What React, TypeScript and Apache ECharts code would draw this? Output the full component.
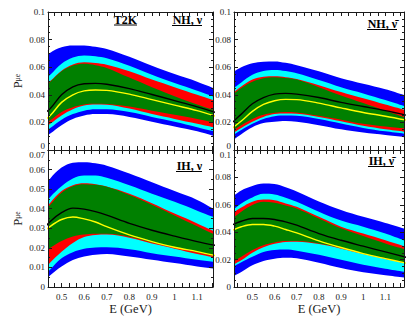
import React, { useEffect, useRef } from "react";
import * as echarts from "echarts";

const SERIF = "Liberation Serif";

// energy sample points (GeV)
const energy = [0.41, 0.45, 0.5, 0.55, 0.6, 0.65, 0.7, 0.8, 0.9, 1.0, 1.1, 1.2];
const xLabelValues = [0.5, 0.6, 0.7, 0.8, 0.9, 1, 1.1];

// NH, nu (top-left)
const nhNuBlueHi = [0.0645, 0.0705, 0.0745, 0.0758, 0.0758, 0.0748, 0.0732, 0.0675, 0.061, 0.055, 0.0495, 0.043];
const nhNuCyanHi = [0.049, 0.0545, 0.0625, 0.067, 0.0685, 0.068, 0.0665, 0.061, 0.0545, 0.0485, 0.043, 0.037];
const nhNuRedHi = [0.045, 0.05, 0.0575, 0.062, 0.0635, 0.063, 0.0618, 0.057, 0.051, 0.0455, 0.04, 0.0345];
const nhNuGreenHi = [0.0445, 0.0495, 0.057, 0.0612, 0.0625, 0.0615, 0.0595, 0.0525, 0.0455, 0.039, 0.033, 0.0275];
const nhNuBlack = [0.025, 0.03, 0.04, 0.0458, 0.048, 0.0483, 0.0476, 0.0445, 0.0402, 0.0358, 0.0313, 0.0262];
const nhNuYellow = [0.02, 0.025, 0.0345, 0.04, 0.0428, 0.0435, 0.0432, 0.0405, 0.0365, 0.0325, 0.0285, 0.0235];
const nhNuGreenLo = [0.017, 0.0215, 0.0275, 0.031, 0.033, 0.0335, 0.0333, 0.0315, 0.0285, 0.0255, 0.0225, 0.019];
const nhNuRedLo = [0.015, 0.019, 0.025, 0.0295, 0.0322, 0.033, 0.0328, 0.03, 0.026, 0.0225, 0.019, 0.0155];
const nhNuCyanLo = [0.012, 0.016, 0.022, 0.026, 0.0285, 0.0295, 0.0295, 0.0275, 0.024, 0.0205, 0.0165, 0.0125];
const nhNuBlueLo = [0.008, 0.012, 0.018, 0.0225, 0.025, 0.026, 0.026, 0.024, 0.0205, 0.017, 0.0135, 0.009];

// NH, anti-nu (top-right)
const nhNubBlueHi = [0.056, 0.06, 0.0628, 0.064, 0.0642, 0.0632, 0.0615, 0.057, 0.052, 0.048, 0.044, 0.039];
const nhNubCyanHi = [0.044, 0.049, 0.0545, 0.0572, 0.058, 0.0572, 0.0556, 0.0507, 0.0455, 0.041, 0.0362, 0.031];
const nhNubRedHi = [0.041, 0.046, 0.051, 0.053, 0.0535, 0.0528, 0.0515, 0.047, 0.042, 0.0375, 0.033, 0.0285];
const nhNubGreenHi = [0.04, 0.045, 0.0495, 0.052, 0.0527, 0.0522, 0.051, 0.0455, 0.0395, 0.034, 0.0285, 0.023];
const nhNubBlack = [0.02, 0.026, 0.0335, 0.038, 0.0405, 0.041, 0.0405, 0.038, 0.0345, 0.0315, 0.0285, 0.025];
const nhNubYellow = [0.016, 0.021, 0.028, 0.033, 0.0357, 0.0367, 0.0365, 0.034, 0.0305, 0.0272, 0.0245, 0.0215];
const nhNubGreenLo = [0.014, 0.018, 0.0225, 0.0255, 0.027, 0.0275, 0.0272, 0.0248, 0.022, 0.019, 0.017, 0.0155];
const nhNubRedLo = [0.012, 0.016, 0.0205, 0.024, 0.026, 0.0265, 0.0263, 0.024, 0.0208, 0.0175, 0.015, 0.013];
const nhNubCyanLo = [0.0105, 0.0145, 0.019, 0.0225, 0.0245, 0.025, 0.0248, 0.0225, 0.0192, 0.016, 0.0135, 0.0115];
const nhNubBlueLo = [0.007, 0.0115, 0.0165, 0.0195, 0.0205, 0.021, 0.0205, 0.018, 0.015, 0.0126, 0.0108, 0.009];

// IH, nu (bottom-left)
const ihNuBlueHi = [0.049, 0.0555, 0.061, 0.0635, 0.0638, 0.0632, 0.062, 0.058, 0.0535, 0.049, 0.0445, 0.038];
const ihNuCyanHi = [0.04, 0.046, 0.0515, 0.0555, 0.057, 0.057, 0.0558, 0.052, 0.0477, 0.0435, 0.039, 0.0345];
const ihNuRedHi = [0.037, 0.043, 0.049, 0.052, 0.053, 0.0525, 0.0514, 0.0477, 0.0428, 0.0375, 0.0325, 0.027];
const ihNuGreenHi = [0.036, 0.042, 0.0482, 0.0515, 0.0525, 0.0522, 0.0512, 0.047, 0.042, 0.0365, 0.031, 0.0255];
const ihNuBlack = [0.028, 0.0335, 0.038, 0.0403, 0.0398, 0.0385, 0.0367, 0.0325, 0.029, 0.026, 0.0232, 0.0208];
const ihNuYellow = [0.027, 0.031, 0.0345, 0.0358, 0.0348, 0.0332, 0.0308, 0.0266, 0.0232, 0.0203, 0.0181, 0.0155];
const ihNuGreenLo = [0.017, 0.02, 0.0235, 0.0258, 0.0268, 0.0272, 0.0272, 0.0257, 0.0228, 0.0203, 0.0177, 0.0153];
const ihNuRedLo = [0.007, 0.0125, 0.018, 0.0225, 0.0255, 0.0266, 0.0268, 0.0252, 0.0222, 0.0196, 0.0169, 0.0146];
const ihNuCyanLo = [0.004, 0.009, 0.0147, 0.0178, 0.0195, 0.0202, 0.0203, 0.0193, 0.0173, 0.0156, 0.0139, 0.0125];
const ihNuBlueLo = [0.001, 0.006, 0.0105, 0.0138, 0.0156, 0.0165, 0.0169, 0.0156, 0.0139, 0.0122, 0.0105, 0.009];

// IH, anti-nu (bottom-right)
const ihNubBlueHi = [0.066, 0.0705, 0.0737, 0.0755, 0.0752, 0.0728, 0.0697, 0.0625, 0.0562, 0.0512, 0.0468, 0.042];
const ihNubCyanHi = [0.056, 0.061, 0.0654, 0.068, 0.0676, 0.0652, 0.0622, 0.055, 0.0485, 0.044, 0.039, 0.033];
const ihNubRedHi = [0.054, 0.058, 0.0622, 0.0638, 0.0634, 0.061, 0.0585, 0.0512, 0.044, 0.039, 0.0341, 0.029];
const ihNubGreenHi = [0.05, 0.055, 0.0598, 0.0622, 0.0615, 0.0595, 0.0573, 0.05, 0.0428, 0.0372, 0.0318, 0.027];
const ihNubBlack = [0.0455, 0.048, 0.05, 0.05, 0.0493, 0.0475, 0.0451, 0.039, 0.0341, 0.0298, 0.0256, 0.0215];
const ihNubYellow = [0.0415, 0.044, 0.0456, 0.0456, 0.0444, 0.042, 0.0395, 0.0337, 0.0288, 0.0244, 0.0207, 0.0172];
const ihNubGreenLo = [0.018, 0.022, 0.027, 0.0305, 0.0325, 0.0335, 0.0335, 0.0318, 0.0285, 0.0245, 0.021, 0.0175];
const ihNubRedLo = [0.016, 0.0195, 0.025, 0.029, 0.0315, 0.0328, 0.033, 0.0313, 0.028, 0.024, 0.0205, 0.017];
const ihNubCyanLo = [0.0145, 0.018, 0.022, 0.0255, 0.027, 0.0273, 0.0265, 0.0235, 0.0198, 0.0162, 0.0134, 0.0108];
const ihNubBlueLo = [0.0075, 0.011, 0.0159, 0.019, 0.0207, 0.0214, 0.021, 0.0177, 0.0138, 0.0107, 0.0085, 0.0066];

const BLUE = "#0000ff";
const CYAN = "#00ffff";
const RED = "#ff0000";
const GREEN = "#008000";
const WHITE = "#ffffff";
const AX = "#1a1a1a";

// Each panel's boundary curves, drawn as areas filled down to the axis, in this order:
// upper edges (outer to inner), then lower edges (inner to outer) filled with the next outer colour.
const panels = [
  {
    grid: { left: 48, top: 12, width: 165, height: 138 },
    xMin: 0.44, xMax: 1.17, yMax: 0.1, yStep: 0.02, ySplit: 4,
    layers: [
      [nhNuBlueHi, BLUE], [nhNuCyanHi, CYAN], [nhNuRedHi, RED], [nhNuGreenHi, GREEN],
      [nhNuGreenLo, RED], [nhNuRedLo, CYAN], [nhNuCyanLo, BLUE], [nhNuBlueLo, WHITE],
    ],
    black: nhNuBlack, yellow: nhNuYellow,
  },
  {
    grid: { left: 234, top: 12, width: 170, height: 138 },
    xMin: 0.417, xMax: 1.184, yMax: 0.1, yStep: 0.02, ySplit: 4,
    layers: [
      [nhNubBlueHi, BLUE], [nhNubCyanHi, CYAN], [nhNubRedHi, RED], [nhNubGreenHi, GREEN],
      [nhNubGreenLo, RED], [nhNubRedLo, CYAN], [nhNubCyanLo, BLUE], [nhNubBlueLo, WHITE],
    ],
    black: nhNubBlack, yellow: nhNubYellow,
  },
  {
    grid: { left: 48, top: 150, width: 165, height: 137 },
    xMin: 0.44, xMax: 1.17, yMax: 0.07, yStep: 0.01, ySplit: 2,
    layers: [
      [ihNuBlueHi, BLUE], [ihNuCyanHi, CYAN], [ihNuRedHi, RED], [ihNuGreenHi, GREEN],
      [ihNuGreenLo, RED], [ihNuRedLo, CYAN], [ihNuCyanLo, BLUE], [ihNuBlueLo, WHITE],
    ],
    black: ihNuBlack, yellow: ihNuYellow,
  },
  {
    grid: { left: 234, top: 150, width: 170, height: 137 },
    xMin: 0.417, xMax: 1.184, yMax: 0.1, yStep: 0.02, ySplit: 4,
    layers: [
      [ihNubBlueHi, BLUE], [ihNubCyanHi, CYAN], [ihNubRedHi, RED], [ihNubGreenHi, GREEN],
      [ihNubGreenLo, RED], [ihNubRedLo, CYAN], [ihNubCyanLo, BLUE], [ihNubBlueLo, WHITE],
    ],
    black: ihNubBlack, yellow: ihNubYellow,
  },
];

function tickValues(min: number, max: number) {
  const out: number[] = [];
  for (let k = 12; k <= 36; k++) {
    const v = k / 30;
    if (v > min + 1e-6 && v < max - 1e-6) out.push(v);
  }
  return out;
}

function fmtY(v: number) {
  if (v === 0) return "0";
  return String(parseFloat(v.toFixed(3)));
}

function buildOption() {
  const xAxis: any[] = [];
  const yAxis: any[] = [];
  const series: any[] = [];
  panels.forEach((p, g) => {
    const bottomRow = g >= 2;
    const leftCol = g % 2 === 0;
    const ticks = tickValues(p.xMin, p.xMax);
    const baseX = {
      type: "value", gridIndex: g, min: p.xMin, max: p.xMax, z: 10,
      axisLine: { show: true, onZero: false, lineStyle: { color: AX, width: 1 } },
      axisTick: { show: true, inside: true, length: 4, customValues: ticks, lineStyle: { color: AX, width: 1 } },
      splitLine: { show: false },
    };
    xAxis.push({
      ...baseX,
      position: "bottom",
      axisLabel: {
        show: bottomRow, customValues: xLabelValues, margin: 5, fontSize: 9, color: AX, fontFamily: SERIF,
        formatter: (v: number) => String(v),
      },
      name: bottomRow ? "E (GeV)" : "",
      nameLocation: "middle", nameGap: 15,
      nameTextStyle: { fontSize: 12.5, color: AX, fontFamily: SERIF },
    });
    xAxis.push({ ...baseX, position: "top", axisLabel: { show: false } });

    const baseY = {
      type: "value", gridIndex: g, min: 0, max: p.yMax, interval: p.yStep, z: 10,
      axisLine: { show: true, onZero: false, lineStyle: { color: AX, width: 1 } },
      axisTick: { show: true, inside: true, length: 4, lineStyle: { color: AX, width: 1 } },
      minorTick: { show: true, splitNumber: p.ySplit, length: 2, lineStyle: { color: AX, width: 1 } },
      splitLine: { show: false },
      minorSplitLine: { show: false },
    };
    yAxis.push({
      ...baseY,
      position: "left",
      axisLabel: {
        show: true, margin: 3, fontSize: 9, color: AX, fontFamily: SERIF, formatter: fmtY,
        verticalAlignMinLabel: bottomRow ? undefined : "bottom",
        verticalAlignMaxLabel: bottomRow ? "top" : undefined,
      },
      name: leftCol ? "{p|P}{s|\u03bce}" : "",
      nameLocation: "middle", nameRotate: 90, nameGap: 24,
      nameTextStyle: {
        color: AX, fontFamily: SERIF,
        rich: {
          p: { fontSize: 12.5, fontFamily: SERIF, color: AX, lineHeight: 13 },
          s: { fontSize: 7.5, fontFamily: SERIF, color: AX, lineHeight: 7 },
        },
      },
    });
    yAxis.push({ ...baseY, position: "right", axisLabel: { show: false } });

    const ai = g * 2;
    p.layers.forEach(([vals, color]) => {
      series.push({
        type: "line", xAxisIndex: ai, yAxisIndex: ai, smooth: 0.35, symbol: "none", silent: true, z: 2,
        lineStyle: { width: 0, opacity: 0 },
        areaStyle: { color, opacity: 1, origin: "start" },
        data: energy.map((e, i) => [e, (vals as number[])[i]]),
      });
    });
    series.push({
      type: "line", xAxisIndex: ai, yAxisIndex: ai, smooth: 0.35, symbol: "none", silent: true, z: 3,
      lineStyle: { color: "#000", width: 1.4 },
      data: energy.map((e, i) => [e, p.black[i]]),
    });
    series.push({
      type: "line", xAxisIndex: ai, yAxisIndex: ai, smooth: 0.35, symbol: "none", silent: true, z: 3,
      lineStyle: { color: "#ffff00", width: 1.4 },
      data: energy.map((e, i) => [e, p.yellow[i]]),
    });
  });

  const labelFont = { fontSize: 12, fontWeight: "bold", fontFamily: SERIF, fill: "#000" };
  const labels = [
    { text: "T2K", x: 125.5, y: 19.5, align: "center", ul: [114, 137, 25] },
    { text: "NH, \u03bd", x: 202, y: 20, align: "right", ul: [172, 202, 25.5] },
    { text: "NH, \u03bd\u0304", x: 397, y: 24, align: "right", ul: [367, 397, 29.5] },
    { text: "IH, \u03bd", x: 202, y: 166, align: "right", ul: [176, 202, 171.5] },
    { text: "IH, \u03bd\u0304", x: 394, y: 161, align: "right", ul: [368, 394, 166.5] },
  ];
  const graphic: any[] = [];
  labels.forEach((l) => {
    graphic.push({
      type: "text", x: l.x, y: l.y, z: 20,
      style: { ...labelFont, text: l.text, textAlign: l.align, textVerticalAlign: "middle" },
    });
    graphic.push({
      type: "line", z: 20,
      shape: { x1: l.ul[0], y1: l.ul[2], x2: l.ul[1], y2: l.ul[2] },
      style: { stroke: "#000", lineWidth: 1 },
    });
  });

  return {
    animation: false,
    backgroundColor: "#ffffff",
    textStyle: { fontFamily: SERIF },
    grid: panels.map((p) => ({ ...p.grid, containLabel: false, outerBoundsMode: "none" })),
    xAxis,
    yAxis,
    series,
    graphic,
  };
}

export default function App() {
  const ref = useRef<HTMLDivElement>(null);
  useEffect(() => {
    if (!ref.current) return;
    const chart = echarts.init(ref.current, null, { renderer: "svg" });
    chart.setOption(buildOption() as any);
    return () => chart.dispose();
  }, []);
  return (
    <div
      ref={ref}
      style={{ position: "fixed", left: 0, top: 0, width: 407, height: 334, background: "#fff" }}
    />
  );
}
